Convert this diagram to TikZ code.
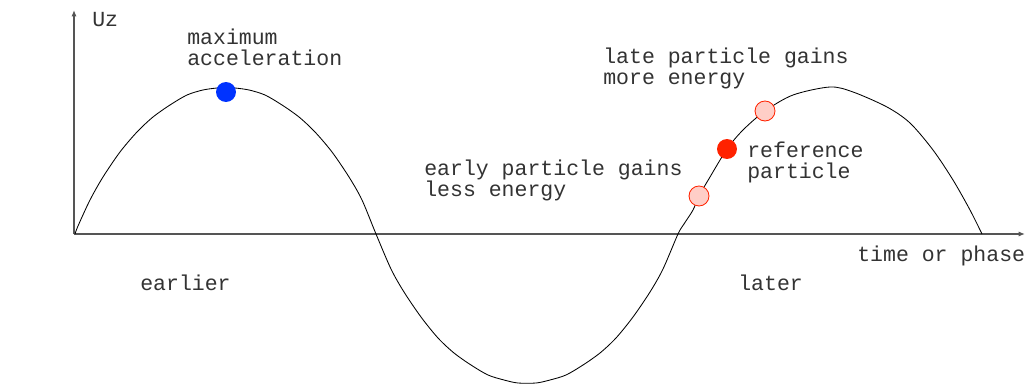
\documentclass[tikz,border=0pt]{standalone}
\usepackage{fontspec}
\setmonofont{Liberation Mono}
\usetikzlibrary{arrows.meta}
\definecolor{accblue}{RGB}{0, 51, 255}
\definecolor{accred}{RGB}{255, 34, 0}
\definecolor{axisgray}{RGB}{85, 85, 85}

\begin{document}
\begin{tikzpicture}[
    x=0.025cm, y=-0.025cm,
    >={Latex[length=4.5pt, width=3.6pt]},
    every node/.style={font=\ttfamily\fontsize{15.3}{15.2}\selectfont, text=black!80},
    label text/.style={anchor=base west, align=left, inner sep=0pt},
    axis line/.style={axisgray, line width=1pt},
    wave/.style={black, line width=0.6pt},
    particle/.style={circle, minimum size=14.2pt, inner sep=0pt},
    peak dot/.style={particle, fill=accblue},
    ref dot/.style={particle, fill=accred},
    off dot/.style={particle, draw=accred, line width=0.6pt, fill=accred!22}
]

\useasboundingbox (0,0) rectangle (1026,386);

% =============================================
% Axes
% =============================================
\coordinate (origin) at (74,234);
\coordinate (ytop) at (74,10);
\coordinate (xend) at (1025,234);
\draw[axis line, ->] (origin) -- (ytop);
\draw[axis line, ->] (origin) -- (xend);

\node[label text] (uz) at (92,27) {Uz};
\node[label text] (phase) at (857,262) {time or phase};

% =============================================
% Accelerating field
% =============================================
\draw[wave] plot[smooth] coordinates {
    (75,234) (78,226) (90,200) (103,177) (120,152) (137,132) (153,117)
    (170,105) (187,95) (203,90) (217,88) (226,87.5) (235,88) (249,90)
    (265,95) (282,105) (299,117) (315,132) (332,152) (349,177) (362,200)
    (376,234) (391,269) (404,292) (421,317) (438,338) (454,353)
    (471,365) (488,375) (504,380) (518,383) (536,383) (550,380)
    (566,375) (583,365) (600,353) (616,338) (633,317) (650,292)
    (663,269) (678,234)
    (684,224) (693,210) (699,196) (710,177) (727,149) (743,130) (765,111)
    (793,95) (830,87) (853,92) (887,107) (910,123) (933,150) (953,180)
    (970,210) (982,234)};

% =============================================
% Particles
% =============================================
\node[peak dot] (maxacc) at (226,92) {};
\node[off dot] (early) at (699,196) {};
\node[ref dot] (reference) at (727,149) {};
\node[off dot] (late) at (765,111) {};

% Labels (base anchor sits on the last line)
\node[label text] (maxlabel) at (187,66) {maximum\\acceleration};
\node[label text] (latelabel) at (603,85) {late particle gains\\more energy};
\node[label text] (reflabel) at (747,179) {reference\\particle};
\node[label text] (earlylabel) at (424,197) {early particle gains\\less energy};

\node[label text] (earlier) at (140,291) {earlier};
\node[label text] (later) at (738,291) {later};

\end{tikzpicture}
\end{document}
